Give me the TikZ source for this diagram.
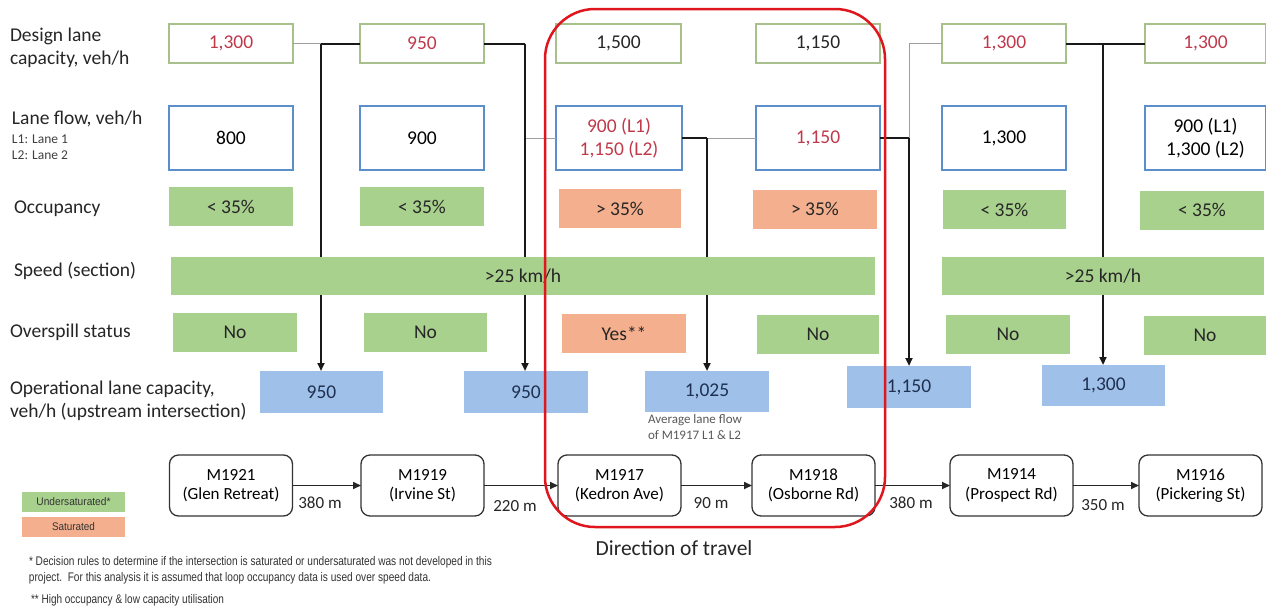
\documentclass[tikz,border=0pt]{standalone}
\usepackage{fontspec}
\usepackage{graphicx}
\setmainfont{Carlito}
\newfontfamily\narrowfont{Liberation Sans}
\usetikzlibrary{arrows.meta}
\definecolor{gfill}{HTML}{A9D18E}
\definecolor{ofill}{HTML}{F4AF8E}
\definecolor{bfill}{HTML}{9FC1E9}
\definecolor{dcol}{HTML}{A8C08C}
\definecolor{fcol}{HTML}{5A8FCB}
\definecolor{rtext}{HTML}{C0394B}
\definecolor{navytext}{HTML}{1F3050}
\definecolor{redline}{HTML}{E0161E}
\begin{document}
\begin{tikzpicture}[x=1pt,y=-1pt,
  every node/.style={inner sep=0pt, outer sep=0pt},
  big/.style={font=\fontsize{19.5}{23}\selectfont},
  lbl/.style={anchor=west, align=left, big, text=black!85},
  sml/.style={anchor=west, align=left, font=\fontsize{13.5}{16}\selectfont, text=black!75},
  dbox/.style={draw=dcol, line width=1.4pt, fill=white, minimum width=124pt, minimum height=39pt, big},
  fbox/.style={draw=fcol, line width=1.3pt, fill=white, minimum width=124pt, minimum height=64pt, align=center, big},
  gbox/.style={fill=gfill, minimum width=124pt, minimum height=39pt, big, text=black!85},
  obox/.style={fill=ofill, minimum width=124pt, minimum height=39pt, big, text=black!85},
  cbox/.style={fill=bfill, minimum width=124pt, minimum height=42pt, big, text=navytext},
  ibox/.style={draw=black!80, fill=white, line width=1.3pt, rounded corners=9pt, minimum width=123pt, minimum height=61pt, align=center, font=\fontsize{17}{19.5}\selectfont},
  dist/.style={font=\fontsize{17}{19}\selectfont, text=black!85},
  thk/.style={line width=2pt, black!90},
  thn/.style={line width=1pt, gray!75},
  arr/.style={thk, -{Triangle[length=8pt,width=7pt]}},
  iarr/.style={line width=1.6pt, black!85, -{Triangle[length=8pt,width=7pt]}},
]
\path[use as bounding box, fill=white] (0,0) rectangle (1266,608);

% row labels
\node[lbl] (l1) at (10,48) {Design lane\\capacity, veh/h};
\node[lbl] (l2) at (12,119) {Lane flow, veh/h};
\node[sml] (l2a) at (12,139) {L1: Lane 1};
\node[sml] (l2b) at (12,155) {L2: Lane 2};
\node[lbl] (l3) at (14,209) {Occupancy};
\node[lbl] (l4) at (14,271) {Speed (section)};
\node[lbl] (l5) at (10,332) {Overspill status};
\node[lbl] (l6) at (10,401) {Operational lane capacity,\\veh/h (upstream intersection)};

% design lane capacity
\node[dbox, text=rtext] (d1) at (231,43.5) {1,300};
\node[dbox, text=rtext] (d2) at (422,43.5) {950};
\node[dbox, text=black!85, minimum width=125pt] (d3) at (618.5,43.5) {1,500};
\node[dbox, text=black!85] (d4) at (818,43.5) {1,150};
\node[dbox, text=rtext] (d5) at (1004,43.5) {1,300};
\node[dbox, text=rtext, minimum width=121pt] (d6) at (1205.5,43.5) {1,300};

% lane flow
\node[fbox] (f1) at (231,138) {800};
\node[fbox] (f2) at (422,138) {900};
\node[fbox, text=rtext, minimum width=126pt] (f3) at (619,138) {900 (L1)\\1,150 (L2)};
\node[fbox, text=rtext] (f4) at (818,138) {1,150};
\node[fbox] (f5) at (1004,138) {1,300};
\node[fbox, minimum width=121pt] (f6) at (1205.5,138) {900 (L1)\\1,300 (L2)};

% occupancy
\node[gbox] (o1) at (231,206.5) {< 35\%};
\node[gbox] (o2) at (422,206.5) {< 35\%};
\node[obox, minimum width=122pt] (o3) at (620,208.5) {> 35\%};
\node[obox] (o4) at (815,209) {> 35\%};
\node[gbox, minimum width=123pt] (o5) at (1004.5,209.5) {< 35\%};
\node[gbox] (o6) at (1202,210) {< 35\%};

% overspill
\node[gbox] (s1) at (235,332) {No};
\node[gbox, minimum width=123pt] (s2) at (425.5,332) {No};
\node[obox] (s3) at (624,333.5) {Yes**};
\node[gbox, minimum width=122pt] (s4) at (818,334.5) {No};
\node[gbox] (s5) at (1008,334.5) {No};
\node[gbox, minimum width=122pt] (s6) at (1205,335.5) {No};

% operational lane capacity
\node[cbox, minimum width=123pt] (c1) at (321.5,392) {950};
\node[cbox] (c2) at (526,392) {950};
\node[cbox, minimum height=41pt] (c3) at (707,391.5) {1,025};
\node[cbox] (c4) at (909,387) {1,150};
\node[cbox, minimum width=123pt, minimum height=41pt] (c5) at (1103.5,385.5) {1,300};
\node[anchor=north west, align=left, font=\fontsize{13}{16}\selectfont, text=black!65] (note) at (648,414) {Average lane flow\\of M1917 L1 \& L2};

% junctions and connectors
\coordinate (j1) at (321,43.5);
\coordinate (j2) at (525,43.5);
\coordinate (j3) at (707,138);
\coordinate (j4) at (909,138);
\coordinate (j5) at (1103,43.5);
\draw[thn] (d1.east) -- (j1);
\draw[thk] (j1) -- (d2.west);
\draw[arr] (j1) -- (j1 |- c1.north);
\draw[thk] (d2.east) -- (j2);
\draw[thn] (j2 |- f3.west) -- (f3.west);
\draw[arr] (j2) -- (j2 |- c2.north);
\draw[thk] (f3.east) -- (j3);
\draw[thn] (j3) -- (f4.west);
\draw[arr] (j3) -- (j3 |- c3.north);
\draw[thk] (f4.east) -- (j4);
\draw[thn] (j4) |- (d5.west);
\draw[arr] (j4) -- (j4 |- c4.north);
\draw[thk] (d5.east) -- (d6.west);
\draw[arr] (j5) -- (j5 |- c5.north);

% speed bars (drawn over the vertical connectors)
\node[gbox, minimum width=704pt, minimum height=38pt] (v1) at (523,276) {>25 km/h};
\node[gbox, minimum width=322pt, minimum height=38pt] (v2) at (1103,276) {>25 km/h};

% intersections
\node[ibox] (i1) at (231,485.5) {M1921\\(Glen Retreat)};
\node[ibox] (i2) at (422.5,485.5) {M1919\\(Irvine St)};
\node[ibox] (i3) at (619.5,485.5) {M1917\\(Kedron Ave)};
\node[ibox] (i4) at (813.5,485.5) {M1918\\(Osborne Rd)};
\node[ibox] (i5) at (1011.5,485.5) {M1914\\(Prospect Rd)};
\node[ibox] (i6) at (1200.5,485.5) {M1916\\(Pickering St)};
\draw[iarr] (i1.east) -- (i2.west);
\draw[iarr] (i2.east) -- (i3.west);
\draw[iarr] (i3.east) -- (i4.west);
\draw[iarr] (i4.east) -- (i5.west);
\draw[iarr] (i5.east) -- (i6.west);
\node[dist] (m1) at (320,503) {380 m};
\node[dist] (m2) at (515,506) {220 m};
\node[dist] (m3) at (711,503) {90 m};
\node[dist] (m4) at (911,503) {380 m};
\node[dist] (m5) at (1103,505) {350 m};

% highlight
\draw[redline, line width=2.5pt, rounded corners=50pt] (545,9) rectangle (885,527);
\node[font=\fontsize{21.5}{24}\selectfont, text=black!85] (dir) at (674,548) {Direction of travel};

% legend
\node[fill=gfill, minimum width=103pt, minimum height=20pt] (lg1) at (73.5,502) {\resizebox{74pt}{\height}{\narrowfont\fontsize{11}{12}\selectfont\color{black!80}Undersaturated*}};
\node[fill=ofill, minimum width=103pt, minimum height=20pt] (lg2) at (73.5,527) {\resizebox{43pt}{\height}{\narrowfont\fontsize{11}{12}\selectfont\color{black!80}Saturated}};

% footnotes
\node[anchor=west, text=black!80] (fn1) at (29,562) {\resizebox{463pt}{\height}{\narrowfont\fontsize{12.5}{14}\selectfont * Decision rules to determine if the intersection is saturated or undersaturated was not developed in this}};
\node[anchor=west, text=black!80] (fn2) at (29,578) {\resizebox{402pt}{\height}{\narrowfont\fontsize{12.5}{14}\selectfont project.\ \ For this analysis it is assumed that loop occupancy data is used over speed data.}};
\node[anchor=west, text=black!80] (fn3) at (31,600) {\resizebox{193pt}{\height}{\narrowfont\fontsize{12.5}{14}\selectfont ** High occupancy \& low capacity utilisation}};
\end{tikzpicture}
\end{document}
